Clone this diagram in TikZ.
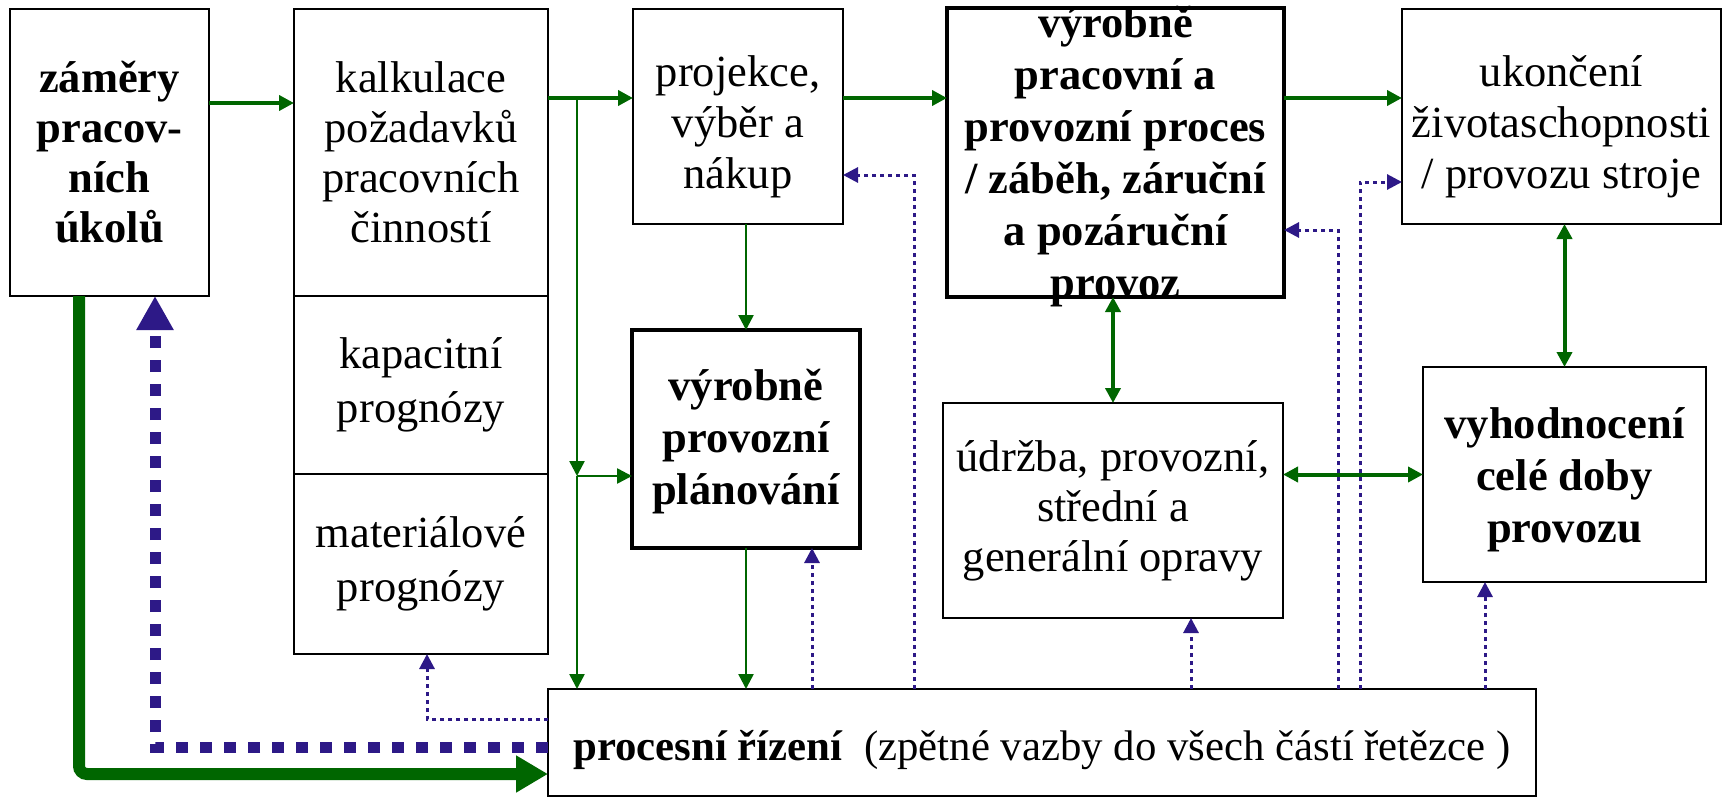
\documentclass[tikz,border=0pt]{standalone}
\usepackage{fontspec}
\setmainfont{Liberation Serif}
\usetikzlibrary{arrows.meta,positioning}
\definecolor{flowgreen}{RGB}{0,102,0}
\definecolor{backblue}{RGB}{45,25,135}

\begin{document}
\begin{tikzpicture}[x=1pt,y=-1pt,>={Triangle[length=15pt,width=15pt]},
    every node/.style={font=\fontsize{44.5}{50}\selectfont,align=center,inner sep=0pt,outer sep=0pt},
    plain text/.style={font=\fontsize{44.5}{#1}\selectfont},
    bold text/.style={font=\fontsize{44.5}{#1}\selectfont\bfseries},
    bold text/.default=50,
    box/.style={draw,line width=2pt},
    heavy box/.style={draw,line width=4.5pt},
    flow/.style={draw=flowgreen,line width=4pt,->},
    thin flow/.style={draw=flowgreen,line width=2.5pt,->},
    two flow/.style={draw=flowgreen,line width=4pt,<->},
    back/.style={draw=backblue,line width=3pt,dash pattern=on 4pt off 4pt,->},
    main flow/.style={draw=flowgreen,line width=12pt,rounded corners=8pt,-{Triangle[length=32pt,width=35pt]}},
    main back/.style={draw=backblue,line width=11pt,dash pattern=on 12pt off 12pt,-{Triangle[length=34pt,width=35pt]}}]
      \useasboundingbox (0,0) rectangle (1723,797);

      % boxes
      \node[box,bold text,minimum width=199,minimum height=287] (zam) at (109.5,152.5) {záměry\\pracov-\\ních\\úkolů};
      \node[box,minimum width=254,minimum height=287] (kalk) at (421,152.5) {kalkulace\\požadavků\\pracovních\\činností};
      \node[box,plain text=54,minimum width=254,minimum height=178,below=0pt of kalk] (kap) {kapacitní\\prognózy};
      \node[box,plain text=54,minimum width=254,minimum height=180,below=0pt of kap] (mat) {materiálové\\prognózy};
      \node[box,minimum width=210,minimum height=215] (proj) at (738,116.5) {};
      \node[plain text=51] (projtext) at ([yshift=-10]proj.center) {projekce,\\výběr a\\nákup};
      \node[heavy box,minimum width=228,minimum height=218] (plan) at (746,439) {};
      \node[bold text=52] (plantext) at ([yshift=-3]plan.center) {výrobně\\provozní\\plánování};
      \node[heavy box,minimum width=337,minimum height=289] (vyr) at (1115.5,152.5) {};
      \node[bold text=52] (vyrtext) at ([yshift=-4]vyr.center) {výrobně\\pracovní a\\provozní proces\\/ záběh, záruční\\a pozáruční\\provoz};
      \node[box,minimum width=319,minimum height=215] (ukon) at (1561.5,116.5) {};
      \node[plain text=51] (ukontext) at ([yshift=-10]ukon.center) {ukončení\\životaschopnosti\\/ provozu stroje};
      \node[box,minimum width=340,minimum height=215] (udrz) at (1113,510.5) {údržba, provozní,\\střední a\\generální opravy};
      \node[box,minimum width=283,minimum height=215] (vyhod) at (1564.5,474.5) {};
      \node[bold text=52] (vyhodtext) at ([yshift=-5]vyhod.center) {vyhodnocení\\celé doby\\provozu};
      \node[box,minimum width=988,minimum height=107] (proc) at (1042,742.5) {};
      \node[font=\fontsize{42.8}{50}\selectfont] (proctext) at ([yshift=-8]proc.center) {\textbf{procesní řízení}\ \ (zpětné vazby do všech částí řetězce )};

      % branch points
      \coordinate (split) at (577,98);
      \coordinate (split2) at (577,476);
      \coordinate (maincorner) at (79,774);
      \coordinate (backcorner) at (155,747);
      \coordinate (matcorner) at (427,719);
      \coordinate (back1) at (812,689);
      \coordinate (back2) at (914,689);
      \coordinate (back3) at (1191,689);
      \coordinate (back4) at (1338,689);
      \coordinate (back5) at (1360,689);
      \coordinate (back6) at (1485,689);

      % green flow
      \draw[flow] ([yshift=49.5]zam.east) -- ([yshift=49.5]kalk.west);
      \draw[flow] (kalk.east |- split) -- (proj.west |- split);
      \draw[flow] (proj.east |- split) -- (vyr.west |- split);
      \draw[flow] (vyr.east |- split) -- (ukon.west |- split);
      \draw[thin flow] (split) -- (split2);
      \draw[thin flow] (split2) -- (plan.west |- split2);
      \draw[thin flow] (split2) -- (split2 |- proc.north);
      \draw[thin flow] (proj.south -| plan.north) -- (plan.north);
      \draw[thin flow] (plan.south) -- (plan.south |- proc.north);
      \draw[two flow] (vyr.south -| udrz.north) -- (udrz.north);
      \draw[two flow] (ukon.south -| vyhod.north) -- (vyhod.north);
      \draw[two flow] (udrz.east |- vyhod.west) -- (vyhod.west);
      \draw[main flow] (maincorner |- zam.south) -- (maincorner) -- (proc.west |- maincorner);

      % feedback
      \draw[main back] (proc.west |- backcorner) -- (backcorner) -- (backcorner |- zam.south);
      \draw[back] (proc.west |- matcorner) -- (matcorner) -- (matcorner |- mat.south);
      \draw[back] (back1) -- (back1 |- plan.south);
      \draw[back] (back2) |- ([yshift=-58.5]proj.east);
      \draw[back] (back3) -- (back3 |- udrz.south);
      \draw[back] (back4) |- ([yshift=-77.5]vyr.east);
      \draw[back] (back5) |- ([yshift=-65.5]ukon.west);
      \draw[back] (back6) -- (back6 |- vyhod.south);
    \end{tikzpicture}
\end{document}
